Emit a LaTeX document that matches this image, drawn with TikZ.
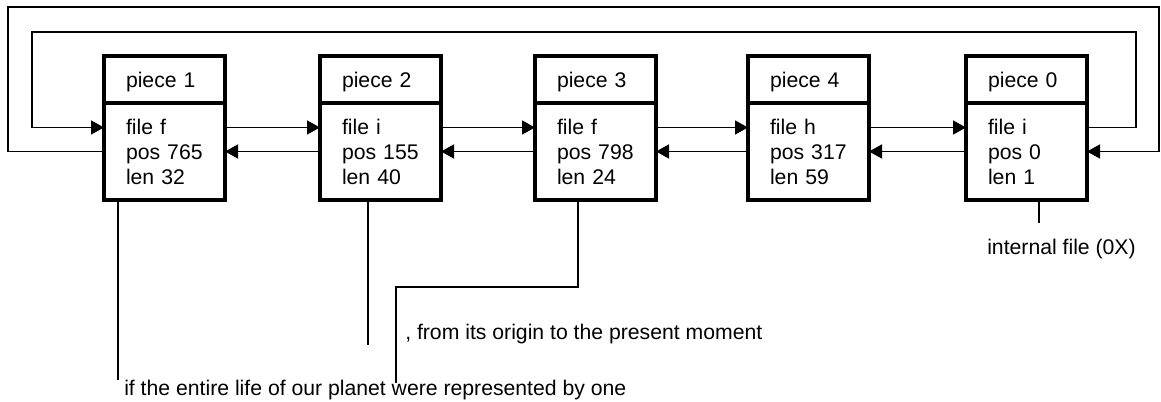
\documentclass[tikz,border=0pt]{standalone}
\usepackage{fontspec}
\setmainfont{Liberation Sans}
\usetikzlibrary{arrows.meta}

\begin{document}
\begin{tikzpicture}[x=0.75pt,y=0.75pt,yscale=-1,xscale=1,
    font=\fontsize{15.9}{18.75}\selectfont,
    piecehead/.style={draw, line width=2.5pt, outer sep=0pt, anchor=south west, text width=57.75pt, inner xsep=16.5pt, inner ysep=0pt, minimum height=35.25pt, text depth=0pt, align=left},
    piecebody/.style={draw, line width=2.5pt, outer sep=0pt, anchor=north west, text width=57.75pt, inner xsep=16.5pt, inner ysep=0pt, minimum height=72.75pt, align=left},
    link/.style={line width=1.2pt, -{Triangle[length=9.75pt,width=10.5pt]}},
    leader/.style={line width=1.2pt},
    note/.style={inner sep=0pt, anchor=base west}]
    \useasboundingbox (0,0) rectangle (1161,402);
    
    %Shape: Pieces
    \node [piecehead] (h1) at (104,103) {piece 1};
    \node [piecebody] (b1) at (104,103) {file f\\pos 765\\len 32};
    \node [piecehead] (h2) at (320,103) {piece 2};
    \node [piecebody] (b2) at (320,103) {file i\\pos 155\\len 40};
    \node [piecehead] (h3) at (535,103) {piece 3};
    \node [piecebody] (b3) at (535,103) {file f\\pos 798\\len 24};
    \node [piecehead] (h4) at (748,103) {piece 4};
    \node [piecebody] (b4) at (748,103) {file h\\pos 317\\len 59};
    \node [piecehead] (h0) at (966,103) {piece 0};
    \node [piecebody] (b0) at (966,103) {file i\\pos 0\\len 1};
    
    %Straight Lines: next and prev
    \draw [link] ([yshift=-18pt]b1.east) -- ([yshift=-18pt]b2.west);
    \draw [link] (b2.west) -- (b1.east);
    \draw [link] ([yshift=-18pt]b2.east) -- ([yshift=-18pt]b3.west);
    \draw [link] (b3.west) -- (b2.east);
    \draw [link] ([yshift=-18pt]b3.east) -- ([yshift=-18pt]b4.west);
    \draw [link] (b4.west) -- (b3.east);
    \draw [link] ([yshift=-18pt]b4.east) -- ([yshift=-18pt]b0.west);
    \draw [link] (b0.west) -- (b4.east);
    
    %Straight Lines: round the list
    \draw [link] ([yshift=-18pt]b0.east) -| (1136,32) -- (32,32) |- ([yshift=-18pt]b1.west);
    \draw [link] (b1.west) -| (8,7) -- (1159,7) |- (b0.east);
    
    % Text Node
    \node [note] (t1) at (124,396) {if the entire life of our planet were represented by one};
    % Text Node
    \node [note] (t2) at (405,340) {, from its origin to the present moment};
    % Text Node
    \node [note] (t3) at (987,255) {internal file (0X)};
    
    %Straight Lines: leaders
    \coordinate (l1) at ([xshift=10.5pt]b1.south west);
    \coordinate (l2) at ([xshift=36pt]b2.south west);
    \coordinate (l3) at ([xshift=32.25pt]b3.south west);
    \coordinate (l0) at ([xshift=54.75pt]b0.south west);
    \coordinate (k3) at (396,383);
    \draw [leader] (l1) -- (l1 |- t1.north);
    \draw [leader] (l2) -- (l2 |- t2.south);
    \draw [leader] (l3) -- ++(0,87) -| (k3);
    \draw [leader] (l0) -- ++(0,23);
    
\end{tikzpicture}
\end{document}
